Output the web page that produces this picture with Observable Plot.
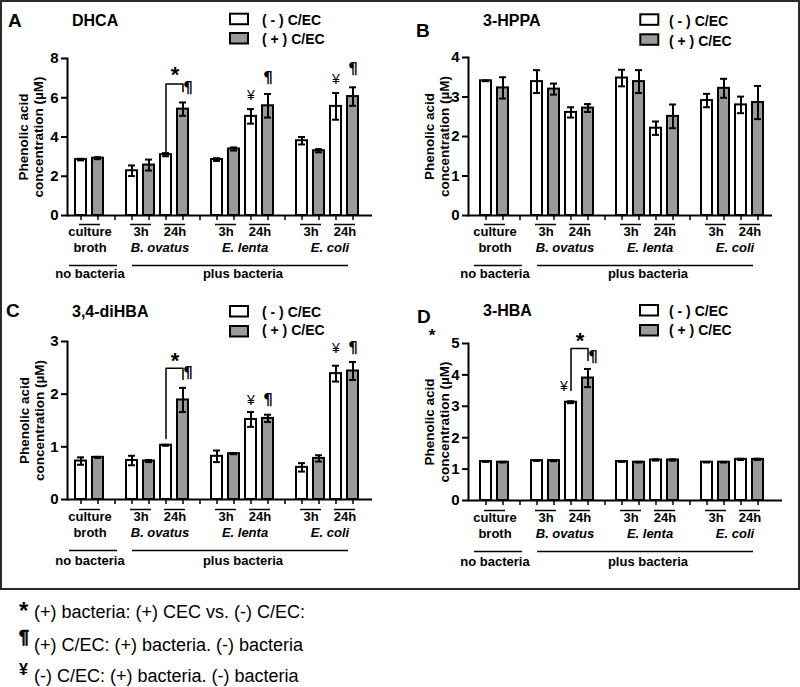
<!DOCTYPE html>
<html>
<head>
<meta charset="utf-8">
<script src="https://cdn.jsdelivr.net/npm/d3@7"></script>
<script src="https://cdn.jsdelivr.net/npm/@observablehq/plot@0.6"></script>
<style>
  html, body { margin: 0; padding: 0; background: #fff; }
  #fig { position: relative; width: 800px; height: 687px; overflow: hidden; background: #fff; }
  .panel { position: absolute; }
  .panel svg { display: block; }
</style>
</head>
<body>
<div id="fig"></div>
<script>
// ================= DATA =================
const slots = ["cb-","cb+","gap1","bo3-","bo3+","bo24-","bo24+","gap2","el3-","el3+","el24-","el24+","gap3","ec3-","ec3+","ec24-","ec24+"];
const barSlots = slots.filter(s => !s.startsWith("gap"));
const treatments = ["-", "+"];
const treatmentLabels = ["( - ) C/EC", "( + ) C/EC"];
const treatmentFills = ["#ffffff", "#9a9a9a"];

const pairStarts = ["cb-","bo3-","bo24-","el3-","el24-","ec3-","ec24-"];
const pairEnds   = ["cb+","bo3+","bo24+","el3+","el24+","ec3+","ec24+"];
const pairLabels = ["culture","3h","24h","3h","24h","3h","24h"];
const groupLabels  = ["broth","B. ovatus","E. lenta","E. coli"];
const groupAnchors = ["cb-","bo3+","el3+","ec3+"];
const bacteriaLabels = ["no bacteria","plus bacteria"];
const bacteriaFrom   = ["cb-","bo3-"];
const bacteriaTo     = ["cb+","ec24+"];
const bacteriaAnchor = ["cb-","el3+"];

const panelLetters = ["A","B","C","D"];
const panelTitles  = ["DHCA","3-HPPA","3,4-diHBA","3-HBA"];
const yTitle = "Phenolic acid\nconcentration (µM)";
const yTicks = [[0,2,4,6,8],[0,1,2,3,4],[0,1,2,3],[0,1,2,3,4,5]];

// means / SEM in barSlots order: cb-,cb+,bo3-,bo3+,bo24-,bo24+,el3-,el3+,el24-,el24+,ec3-,ec3+,ec24-,ec24+
const dhcaMean = [2.85,2.92, 2.28,2.57, 3.10,5.42, 2.85,3.39, 5.05,5.59, 3.81,3.30, 5.56,6.06];
const dhcaSem  = [0.04,0.05, 0.27,0.28, 0.08,0.34, 0.07,0.08, 0.37,0.60, 0.19,0.08, 0.68,0.47];
const hppaMean = [3.41,3.23, 3.39,3.20, 2.61,2.72, 3.48,3.39, 2.21,2.51, 2.91,3.22, 2.80,2.86];
const hppaSem  = [0.01,0.27, 0.29,0.14, 0.13,0.10, 0.21,0.29, 0.17,0.30, 0.17,0.24, 0.21,0.42];
const dihbaMean = [0.73,0.80, 0.74,0.73, 1.03,1.89, 0.82,0.87, 1.52,1.54, 0.61,0.78, 2.39,2.44];
const dihbaSem  = [0.07,0.01, 0.09,0.02, 0.01,0.23, 0.11,0.01, 0.14,0.07, 0.08,0.06, 0.15,0.17];
const hbaMean = [1.24,1.22, 1.27,1.27, 3.13,3.90, 1.24,1.22, 1.29,1.29, 1.22,1.22, 1.31,1.31];
const hbaSem  = [0.01,0.01, 0.01,0.02, 0.03,0.29, 0.01,0.01, 0.02,0.02, 0.01,0.01, 0.02,0.02];

// significance symbols (slot, symbol, height in data units)
const dhcaSig  = [{slot:"bo24+",sym:"¶",y:6.5},{slot:"el24-",sym:"¥",y:6.1},{slot:"el24+",sym:"¶",y:7.0},{slot:"ec24-",sym:"¥",y:6.95},{slot:"ec24+",sym:"¶",y:7.45}];
const hppaSig  = [];
const dihbaSig = [{slot:"bo24+",sym:"¶",y:2.39},{slot:"el24-",sym:"¥",y:1.88},{slot:"el24+",sym:"¶",y:1.88},{slot:"ec24-",sym:"¥",y:2.87},{slot:"ec24+",sym:"¶",y:2.87}];
const hbaSig   = [{slot:"bo24+",sym:"¶",y:4.55},{slot:"bo24-",sym:"¥",y:3.63}];
// brackets between bo24- and bo24+: [left leg bottom, top, right leg bottom], star height
const dhcaBracket = [3.2, 6.7, 6.3];   const dhcaStar = 7.4;
const dihbaBracket = [1.16, 2.49, 2.28]; const dihbaStar = 2.73;
const hbaBracket = [3.5, 4.84, 4.46];  const hbaStar = 5.25;

const captionSymbols = ["*","¶","¥"];
const captionTexts = ["(+) bacteria: (+) CEC vs. (-) C/EC:", "(+) C/EC: (+) bacteria. (-) bacteria", "(-) C/EC: (+) bacteria. (-) bacteria"];

const means = [dhcaMean, hppaMean, dihbaMean, hbaMean];
const sems  = [dhcaSem, hppaSem, dihbaSem, hbaSem];
const sigs  = [dhcaSig, hppaSig, dihbaSig, hbaSig];
const brackets = [dhcaBracket, null, dihbaBracket, hbaBracket];
const stars = [dhcaStar, null, dihbaStar, hbaStar];

// ================= LAYOUT =================
const FONT = "'Liberation Sans', Arial, Helvetica, sans-serif";
const layout = [
  {left:0,   top:0,   height:290, mt:58, mb:75, ml:67, mr:28, il:0, ir:5,  ylx:-37, d:[9,20,36,50,62]},
  {left:400, top:0,   height:290, mt:57, mb:75, ml:68, mr:28, il:4, ir:0,  ylx:-32, d:[9,20,36,50,62]},
  {left:0,   top:290, height:298, mt:51, mb:89, ml:67, mr:28, il:0, ir:5,  ylx:-36, d:[10,21,37,51,65]},
  {left:400, top:290, height:298, mt:53, mb:88, ml:68, mr:18, il:4, ir:10, ylx:-32, d:[10,21,37,51,65]}
];
const HALF = 9; // half a slot step, to centre labels between two slots
const pil = {fontSize: 15, fontWeight: "bold", fontFamily: "'DejaVu Sans', sans-serif", fill: "#000"};

const fig = document.getElementById("fig");

for (let i = 0; i < 4; i++) {
  const L = layout[i];
  const rows = barSlots.map((s, j) => ({slot: s, treat: s.slice(-1), mean: means[i][j], sem: sems[i][j]}));
  const pairs = pairStarts.map((a, j) => ({a, b: pairEnds[j], label: pairLabels[j]}));
  const groups = groupLabels.map((g, j) => ({label: g, at: groupAnchors[j]}));
  const bact = bacteriaLabels.map((b, j) => ({label: b, from: bacteriaFrom[j], to: bacteriaTo[j], at: bacteriaAnchor[j]}));
  const ymax = yTicks[i][yTicks[i].length - 1];
  const br = brackets[i];
  const sig = sigs[i];
  const beside = d => br && d.slot === "bo24+" && d.sym === "¶";
  const leftOfBracket = d => br && d.slot === "bo24-" && d.sym === "¥";

  const marks = [
    Plot.barY(rows, {x: "slot", y: "mean", fill: "treat", stroke: "#000", strokeWidth: 2}),
    Plot.ruleX(rows, {x: "slot", y1: d => d.mean - d.sem, y2: d => d.mean + d.sem, stroke: "#000", strokeWidth: 2}),
    Plot.tickY(rows, {x: "slot", y: d => d.mean + d.sem, stroke: "#000", strokeWidth: 2, insetLeft: 2, insetRight: 2}),
    Plot.tickY(rows, {x: "slot", y: d => d.mean - d.sem, stroke: "#000", strokeWidth: 2, insetLeft: 2, insetRight: 2}),
    Plot.axisY({ticks: yTicks[i], tickFormat: d => String(d), tickSize: 6, tickPadding: 3, strokeWidth: 2, fontSize: 15, fontWeight: "bold", label: null}),
    Plot.axisX({tickSize: 5, tickFormat: () => "", strokeWidth: 1.5, label: null}),
    Plot.frame({anchor: "left", strokeWidth: 2}),
    Plot.ruleY([0], {strokeWidth: 2}),
    // y title
    Plot.text([yTitle], {frameAnchor: "left", textAnchor: "middle", dx: L.ylx, rotate: -90, fontSize: 13.5, fontWeight: "bold", lineHeight: 1.12}),
    // pair underlines + labels
    Plot.ruleY(pairs, {x1: "a", x2: "b", y: () => 0, dy: L.d[0], strokeWidth: 1.5, insetLeft: 4, insetRight: 3}),
    Plot.text(pairs, {x: "a", text: "label", frameAnchor: "bottom", dx: HALF, dy: L.d[1], fontSize: 13, fontWeight: "bold"}),
    Plot.text(groups.slice(0, 1), {x: "at", text: "label", frameAnchor: "bottom", dx: HALF, dy: L.d[2], fontSize: 13, fontWeight: "bold"}),
    Plot.text(groups.slice(1), {x: "at", text: "label", frameAnchor: "bottom", dx: HALF + 2, dy: L.d[2], fontSize: 13, fontWeight: "bold", fontStyle: "italic"}),
    Plot.ruleY(bact.slice(0, 1), {x1: "from", x2: "to", y: () => 0, dy: L.d[3], strokeWidth: 1.5, insetLeft: -6, insetRight: -14}),
    Plot.ruleY(bact.slice(1), {x1: "from", x2: "to", y: () => 0, dy: L.d[3], strokeWidth: 1.5, insetLeft: 6, insetRight: 10}),
    Plot.text(bact, {x: "at", text: "label", frameAnchor: "bottom", dx: HALF, dy: L.d[4], fontSize: 13, fontWeight: "bold"}),
    // significance symbols
    Plot.text(sig.filter(d => d.sym === "¶" && !beside(d)), {x: "slot", y: "y", text: "sym", ...pil}),
    Plot.text(sig.filter(d => beside(d)), {x: "slot", y: "y", text: "sym", dx: 5, ...pil}),
    Plot.text(sig.filter(d => d.sym === "¥" && !leftOfBracket(d)), {x: "slot", y: "y", text: "sym", fontSize: 14, fontWeight: "normal"}),
    Plot.text(sig.filter(d => leftOfBracket(d)), {x: "slot", y: "y", text: "sym", dx: -7, fontSize: 14, fontWeight: "normal"})
  ];
  if (br) {
    const pts = [{slot: "bo24-", y: br[0]}, {slot: "bo24-", y: br[1]}, {slot: "bo24+", y: br[1]}, {slot: "bo24+", y: br[2]}];
    marks.push(Plot.line(pts, {x: "slot", y: "y", stroke: "#000", strokeWidth: 1.5}));
    marks.push(Plot.text([{slot: "bo24-", y: stars[i]}], {x: "slot", y: "y", text: () => "*", dx: HALF, dy: 5, fontSize: 22, fontWeight: "bold"}));
  }

  const svg = Plot.plot({
    width: 400,
    height: L.height,
    marginTop: L.mt, marginBottom: L.mb, marginLeft: L.ml, marginRight: L.mr,
    style: {fontFamily: FONT, fontSize: "15px", fontWeight: "bold", color: "#000", background: "none", overflow: "visible"},
    x: {type: "band", domain: slots, paddingInner: 0.33, paddingOuter: 0, insetLeft: L.il, insetRight: L.ir},
    y: {domain: [0, ymax]},
    color: {domain: treatments, range: treatmentFills},
    marks
  });
  const wrap = document.createElement("div");
  wrap.className = "panel";
  wrap.style.left = L.left + "px";
  wrap.style.top = L.top + "px";
  wrap.appendChild(svg);
  fig.appendChild(wrap);
}

// ================= OVERLAY: letters, titles, legends, frame, caption =================
const header = [
  {letter: [8, 27],   title: [72, 26],  box: [230, 13.7], boxGap: 19.3, text: [262, 25], textGap: 19},
  {letter: [416, 37], title: [483, 26], box: [640.3, 14.3], boxGap: 20, text: [669, 26], textGap: 20},
  {letter: [6, 317],  title: [72, 317], box: [230, 306], boxGap: 20, text: [262, 316.5], textGap: 18.5},
  {letter: [417, 323], title: [483, 316], box: [640, 305], boxGap: 20, text: [669, 316], textGap: 19}
];
const ov = d3.select("#fig").append("svg")
  .attr("width", 800).attr("height", 687)
  .style("position", "absolute").style("left", 0).style("top", 0)
  .attr("font-family", FONT);

ov.append("rect").attr("x", 1).attr("y", 1).attr("width", 798).attr("height", 588)
  .attr("fill", "none").attr("stroke", "#2a2a2a").attr("stroke-width", 2);

header.forEach((h, i) => {
  ov.append("text").attr("x", h.letter[0]).attr("y", h.letter[1]).attr("font-size", 19).attr("font-weight", "bold").text(panelLetters[i]);
  ov.append("text").attr("x", h.title[0]).attr("y", h.title[1]).attr("font-size", 16).attr("font-weight", "bold").text(panelTitles[i]);
  treatments.forEach((t, k) => {
    ov.append("rect").attr("x", h.box[0]).attr("y", h.box[1] + k * h.boxGap).attr("width", 18).attr("height", 10.5)
      .attr("fill", treatmentFills[k]).attr("stroke", "#000").attr("stroke-width", 2);
    ov.append("text").attr("x", h.text[0]).attr("y", h.text[1] + k * h.textGap).attr("font-size", 14).attr("font-weight", "bold")
      .text(treatmentLabels[k]);
  });
});
// stray asterisk under "D"
ov.append("text").attr("x", 432).attr("y", 341).attr("text-anchor", "middle").attr("font-size", 17).attr("font-weight", "bold").text("*");

// caption
const capBase = [618, 651, 682];
const capSymY = [619, 643, 675];
const capSymSize = [24, 18, 16];
captionTexts.forEach((t, k) => {
  const s = ov.append("text").attr("x", 19).attr("y", capSymY[k]).attr("font-size", capSymSize[k]).attr("font-weight", "bold").text(captionSymbols[k]);
  if (k === 1) s.attr("stroke", "#000").attr("stroke-width", 0.7);
  ov.append("text").attr("x", 34).attr("y", capBase[k]).attr("font-size", 18).text(t);
});
</script>
</body>
</html>
